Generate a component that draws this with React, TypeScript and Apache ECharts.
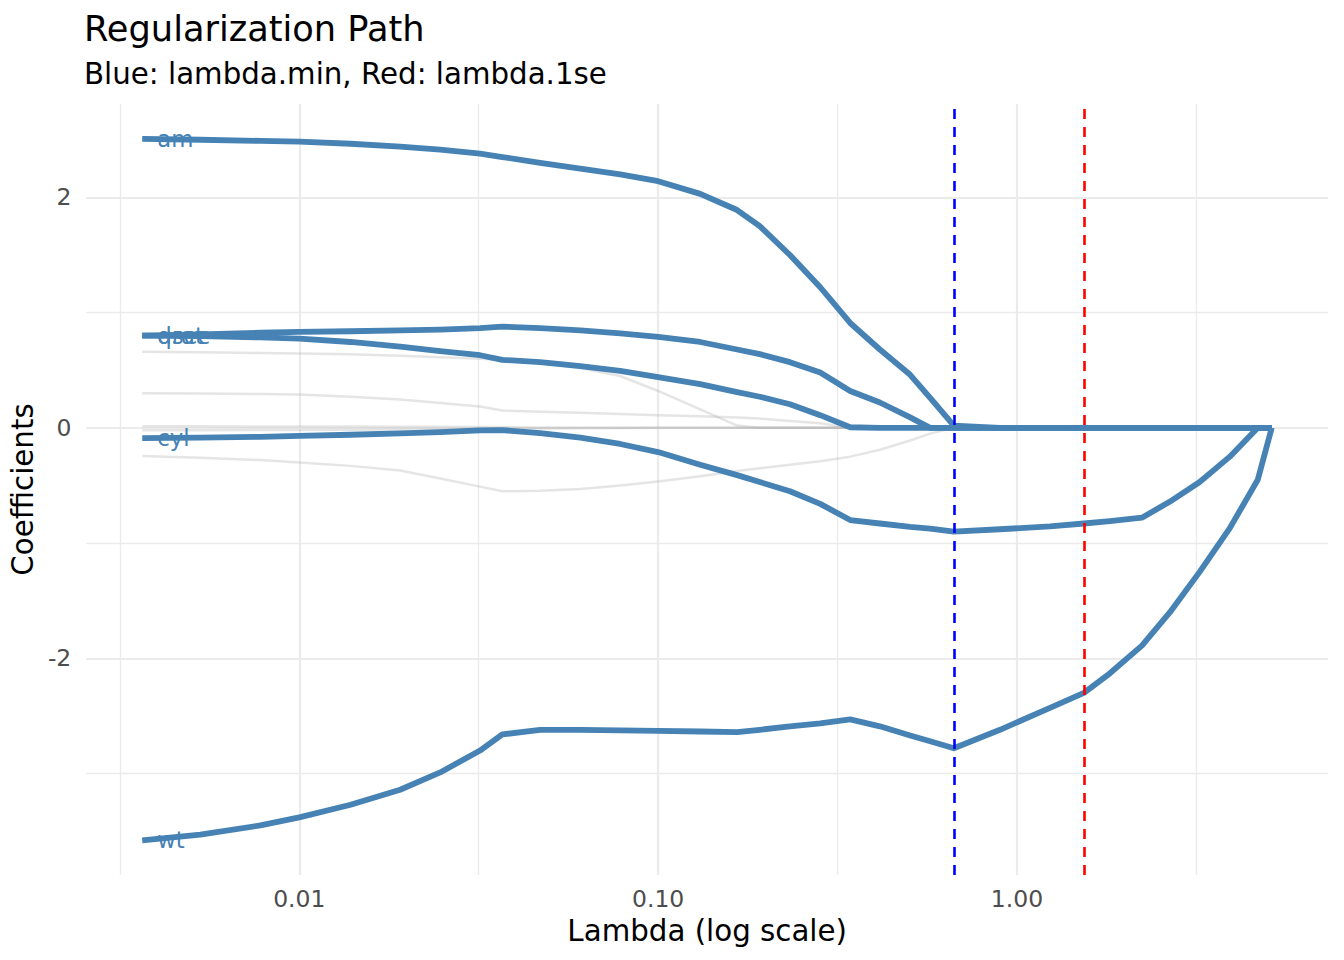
import { useEffect, useRef } from "react";
import * as echarts from "echarts";

// lambda grid (x) shared by every coefficient path
const lambdaValues = [
  0.00365, 0.0053, 0.00779, 0.01, 0.0139, 0.0191, 0.0247, 0.0319, 0.0368, 0.0469, 0.0607,
  0.0784, 0.1, 0.131, 0.166, 0.192, 0.233, 0.283, 0.343, 0.415, 0.504, 0.573, 0.667, 0.897,
  1.236, 1.537, 1.816, 2.23, 2.67, 3.23, 3.92, 4.69, 5.13,
];

// highlighted paths
const amCoef = [
  2.507, 2.5, 2.49, 2.483, 2.465, 2.44, 2.415, 2.38, 2.35, 2.3, 2.25, 2.2, 2.14, 2.03, 1.89, 1.75,
  1.5, 1.22, 0.91, 0.68, 0.46, 0.26, 0.02, 0, 0, 0, 0, 0, 0, 0, 0, 0, 0,
];
const qsecCoef = [
  0.8, 0.81, 0.825, 0.832, 0.838, 0.845, 0.853, 0.865, 0.878, 0.865, 0.845, 0.82, 0.79, 0.745,
  0.68, 0.64, 0.57, 0.48, 0.32, 0.22, 0.09, 0, 0, 0, 0, 0, 0, 0, 0, 0, 0, 0, 0,
];
const dratCoef = [
  0.8, 0.795, 0.785, 0.775, 0.745, 0.705, 0.665, 0.63, 0.59, 0.57, 0.535, 0.495, 0.44, 0.38, 0.31,
  0.27, 0.205, 0.11, 0.005, 0, 0, 0, 0, 0, 0, 0, 0, 0, 0, 0, 0, 0, 0,
];
const cylCoef = [
  -0.09, -0.085, -0.078, -0.07, -0.06, -0.048, -0.037, -0.022, -0.02, -0.045, -0.085, -0.14,
  -0.21, -0.32, -0.41, -0.47, -0.55, -0.66, -0.8, -0.83, -0.86, -0.875, -0.9, -0.88, -0.855,
  -0.83, -0.81, -0.78, -0.64, -0.47, -0.25, 0, 0,
];
const wtCoef = [
  -3.58, -3.53, -3.45, -3.38, -3.27, -3.14, -2.99, -2.8, -2.66, -2.62, -2.62, -2.625, -2.63,
  -2.635, -2.64, -2.62, -2.59, -2.565, -2.53, -2.59, -2.67, -2.72, -2.78, -2.62, -2.43, -2.3,
  -2.13, -1.89, -1.6, -1.25, -0.87, -0.45, 0,
];

// background paths
const gearCoef = [
  0.66, 0.656, 0.65, 0.645, 0.638, 0.625, 0.613, 0.6, 0.59, 0.565, 0.52, 0.45, 0.32, 0.16, 0.02,
  0, 0, 0, 0, 0, 0, 0, 0, 0, 0, 0, 0, 0, 0, 0, 0, 0, 0,
];
const vsCoef = [
  0.3, 0.298, 0.293, 0.29, 0.27, 0.245, 0.215, 0.185, 0.15, 0.14, 0.13, 0.12, 0.11, 0.1, 0.09,
  0.08, 0.06, 0.04, 0, 0, 0, 0, 0, 0, 0, 0, 0, 0, 0, 0, 0, 0, 0,
];
const carbCoef = [
  -0.245, -0.26, -0.28, -0.3, -0.33, -0.37, -0.44, -0.51, -0.55, -0.545, -0.53, -0.5, -0.465,
  -0.42, -0.375, -0.35, -0.32, -0.29, -0.25, -0.19, -0.11, -0.05, 0, 0, 0, 0, 0, 0, 0, 0, 0, 0, 0,
];
const dispCoef = [
  0.013, 0.013, 0.012, 0.012, 0.011, 0.01, 0.009, 0.007, 0.006, 0.004, 0.002, 0, 0, 0, 0, 0, 0,
  0, 0, 0, 0, 0, 0, 0, 0, 0, 0, 0, 0, 0, 0, 0, 0,
];
const hpCoef = [
  -0.02, -0.02, -0.019, -0.018, -0.016, -0.014, -0.012, -0.01, -0.008, -0.006, -0.004, -0.002,
  0, 0, 0, 0, 0, 0, 0, 0, 0, 0, 0, 0, 0, 0, 0, 0, 0, 0, 0, 0, 0,
];

const highlightNames = ["am", "qsec", "drat", "cyl", "wt"];
const highlightCoefs = [amCoef, qsecCoef, dratCoef, cylCoef, wtCoef];
const greyNames = ["gear", "vs", "carb", "disp", "hp"];
const greyCoefs = [gearCoef, vsCoef, carbCoef, dispCoef, hpCoef];

const lambdaMin = 0.667;
const lambda1se = 1.537;

const xRange = [0.00255, 7.36];
const yRange = [-3.88, 2.81];

const FONT = '"DejaVu Sans", Verdana, sans-serif';
const STEEL = "#4682B4";
const GRID = "#ebebeb";

const toPoints = (vals: number[]) => lambdaValues.map((l, i) => [l, vals[i]]);

export default function App() {
  const ref = useRef<HTMLDivElement>(null);

  useEffect(() => {
    document.body.style.margin = "0";
    if (!ref.current) return;
    const chart = echarts.init(ref.current, undefined, { renderer: "svg" });

    chart.setOption({
      animation: false,
      textStyle: { fontFamily: FONT },
      title: [
        {
          text: "Regularization Path",
          left: 84,
          top: 11,
          padding: 0,
          textStyle: { fontSize: 35.2, fontWeight: "normal", color: "#000", fontFamily: FONT },
        },
        {
          text: "Blue: lambda.min, Red: lambda.1se",
          left: 84,
          top: 59,
          padding: 0,
          textStyle: { fontSize: 29.3, fontWeight: "normal", color: "#000", fontFamily: FONT },
        },
      ],
      grid: { left: 86, right: 16, top: 104, bottom: 85 },
      xAxis: [
        {
          type: "log",
          logBase: 10,
          min: xRange[0],
          max: xRange[1],
          name: "Lambda (log scale)",
          nameLocation: "middle",
          nameGap: 41,
          nameTextStyle: { fontSize: 29.3, color: "#000", fontFamily: FONT },
          axisLine: { show: false },
          axisTick: { show: false },
          splitLine: { show: false },
          axisLabel: {
            color: "#4d4d4d",
            fontSize: 23.5,
            fontFamily: FONT,
            margin: 12,
            showMinLabel: false,
            showMaxLabel: false,
            formatter: (v: number) => v.toFixed(2),
          },
        },
        {
          // grid helper: major lines at decades, minor lines at half decades
          type: "value",
          position: "top",
          min: Math.log10(xRange[0]),
          max: Math.log10(xRange[1]),
          splitNumber: 3,
          axisLine: { show: false },
          axisTick: { show: false },
          axisLabel: { show: false },
          splitLine: {
            show: true,
            showMinLine: false,
            showMaxLine: false,
            lineStyle: { color: GRID, width: 2.2 },
          },
          minorTick: { show: false, splitNumber: 2 },
          minorSplitLine: { show: true, lineStyle: { color: GRID, width: 1.3 } },
        },
      ],
      yAxis: {
        type: "value",
        min: yRange[0],
        max: yRange[1],
        splitNumber: 3,
        name: "Coefficients",
        nameLocation: "middle",
        nameGap: 45,
        nameRotate: 90,
        nameTextStyle: { fontSize: 29.3, color: "#000", fontFamily: FONT },
        axisLine: { show: false },
        axisTick: { show: false },
        axisLabel: {
          color: "#4d4d4d",
          fontSize: 23.5,
          fontFamily: FONT,
          margin: 15,
          showMinLabel: false,
          showMaxLabel: false,
          formatter: (v: number) => String(v),
        },
        splitLine: {
          show: true,
          showMinLine: false,
          showMaxLine: false,
          lineStyle: { color: GRID, width: 2.2 },
        },
        minorTick: { show: false, splitNumber: 2 },
        minorSplitLine: { show: true, lineStyle: { color: GRID, width: 1.3 } },
      },
      series: [
        ...greyCoefs.map((vals, i) => ({
          name: greyNames[i],
          type: "line",
          xAxisIndex: 0,
          data: toPoints(vals),
          symbol: "none",
          silent: true,
          z: 1,
          lineStyle: { color: "rgba(170,170,170,0.3)", width: 2.5, join: "round" },
        })),
        {
          name: "labels",
          type: "scatter",
          xAxisIndex: 0,
          symbolSize: 0,
          silent: true,
          z: 2,
          itemStyle: { opacity: 1 },
          data: highlightCoefs.map((vals, i) => ({
            name: highlightNames[i],
            value: [lambdaValues[0], vals[0]],
          })),
          label: {
            show: true,
            position: "right",
            distance: 15,
            formatter: "{b}",
            color: STEEL,
            opacity: 1,
            fontSize: 22.8,
            fontFamily: FONT,
          },
        },
        ...highlightCoefs.map((vals, i) => ({
          name: highlightNames[i],
          type: "line",
          xAxisIndex: 0,
          data: toPoints(vals),
          symbol: "none",
          silent: true,
          z: 3,
          lineStyle: { color: STEEL, width: 5.8, join: "round" },
        })),
        {
          name: "cv lambda",
          type: "line",
          xAxisIndex: 0,
          data: [],
          z: 4,
          markLine: {
            silent: true,
            symbol: ["none", "none"],
            label: { show: false },
            lineStyle: { type: [10, 8], width: 2.6 },
            data: [
              { xAxis: lambdaMin, lineStyle: { color: "#0000ff", type: [10, 8], width: 2.6 } },
              { xAxis: lambda1se, lineStyle: { color: "#ff0000", type: [10, 8], width: 2.6 } },
            ],
          },
        },
      ],
    });

    return () => chart.dispose();
  }, []);

  return <div ref={ref} style={{ width: 1344, height: 960 }} />;
}
